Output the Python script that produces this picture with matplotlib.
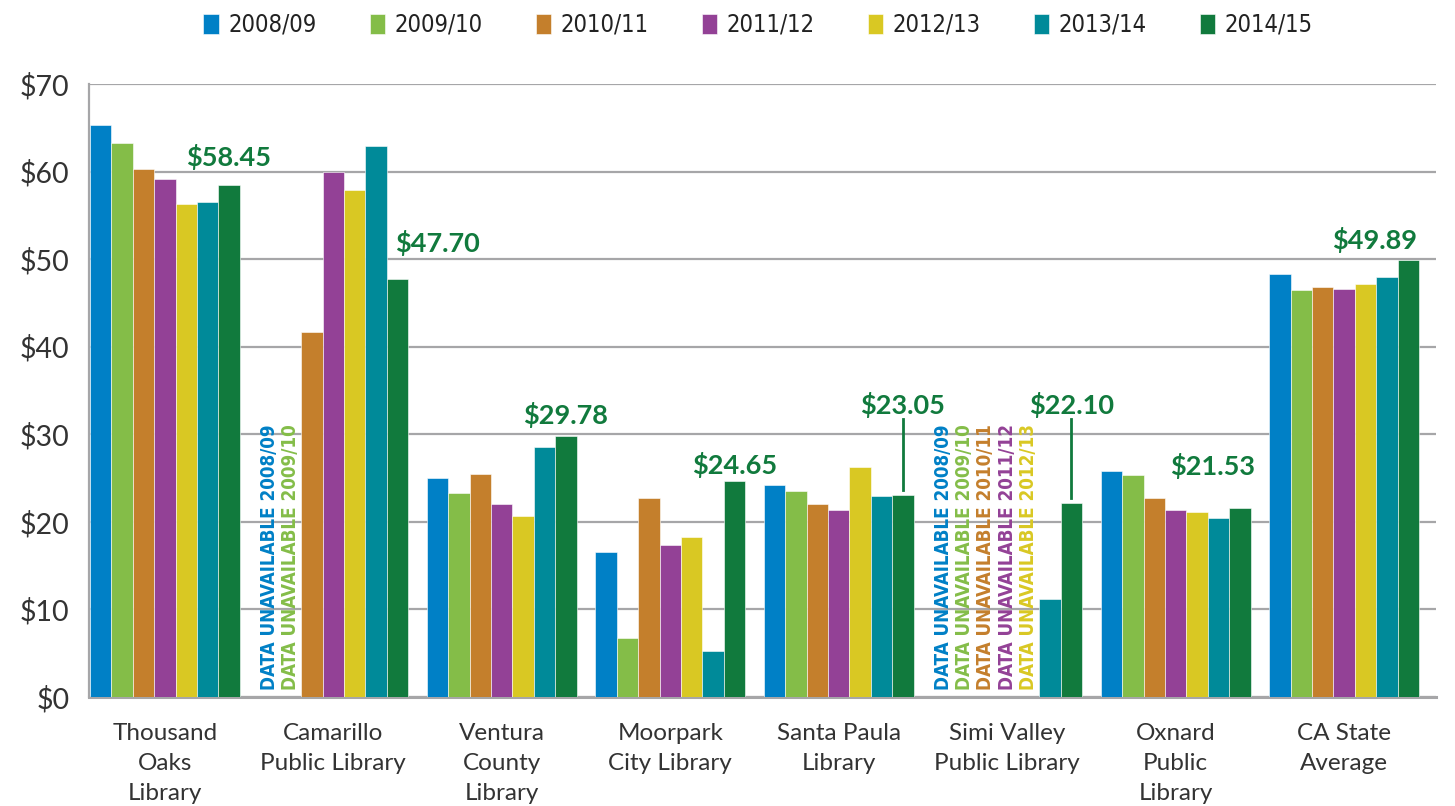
import matplotlib
matplotlib.use("Agg")
import matplotlib.pyplot as plt
import numpy as np

categories = ["Thousand\nOaks\nLibrary", "Camarillo\nPublic Library", "Ventura\nCounty\nLibrary",
              "Moorpark\nCity Library", "Santa Paula\nLibrary", "Simi Valley\nPublic Library",
              "Oxnard\nPublic\nLibrary", "CA State\nAverage"]
series_names = ["2008/09", "2009/10", "2010/11", "2011/12", "2012/13", "2013/14", "2014/15"]
nan = np.nan
v2008 = [65.3, nan, 25.0, 16.6, 24.2, nan, 25.8, 48.3]
v2009 = [63.3, nan, 23.3, 6.7, 23.5, nan, 25.3, 46.5]
v2010 = [60.3, 41.7, 25.5, 22.7, 22.0, nan, 22.7, 46.8]
v2011 = [59.1, 60.0, 22.0, 17.4, 21.3, nan, 21.4, 46.6]
v2012 = [56.3, 57.9, 20.7, 18.3, 26.3, nan, 21.1, 47.2]
v2013 = [56.5, 62.9, 28.6, 5.3, 23.0, 11.2, 20.4, 48.0]
v2014 = [58.45, 47.70, 29.78, 24.65, 23.05, 22.10, 21.53, 49.89]
series = [v2008, v2009, v2010, v2011, v2012, v2013, v2014]
colors = ["#0080C6", "#84BD48", "#C47F2C", "#934196", "#D9C823", "#008A99", "#117A3D"]

yticks = [0, 10, 20, 30, 40, 50, 60, 70]
ytick_labels = ["$0", "$10", "$20", "$30", "$40", "$50", "$60", "$70"]

# annotation placement for 2014/15 labels (x offset in group units, y in data units)
label_dx = [0, 0.24, 0, 0, 0, 0, -0.16, -0.2]
label_y = [61.7, 51.8, 32.2, 26.5, 33.4, 33.4, 26.4, 52.2]
leader = [False, False, False, False, True, True, False, False]

fig = plt.figure(figsize=(14.55, 8.06), dpi=100)
ax = fig.add_axes([89/1455, (806-697)/806, (1436-89)/1455, (697-84)/806])

n = len(series)
w = 0.127
x = np.arange(len(categories))
for i, (vals, c, name) in enumerate(zip(series, colors, series_names)):
    pos = x + (i - (n - 1) / 2) * w
    ax.bar(pos, vals, width=w, color=c, edgecolor="white", linewidth=0.4, label=name, zorder=3)
    for j, v in enumerate(vals):
        if np.isnan(v):
            ax.text(pos[j], 0.8, "DATA UNAVAILABLE " + name, rotation=90, ha="center", va="bottom",
                    color=c, fontsize=13.5, fontweight="bold", family="DejaVu Sans",
                    fontstretch="condensed", zorder=4)

green_pos = x + (n - 1 - (n - 1) / 2) * w
for j, v in enumerate(v2014):
    lx = green_pos[j] + label_dx[j]
    ax.text(lx, label_y[j], "${:.2f}".format(v), ha="center", va="center", color="#117A3D",
            fontsize=19.5, fontweight="bold", family="Lato", zorder=5)
    if leader[j]:
        ax.plot([green_pos[j], green_pos[j]], [label_y[j] - 1.7, v + 0.6], color="#117A3D", lw=2, zorder=5)

ax.set_ylim(0, 70)
ax.set_xlim(-0.45, 7.545)
ax.set_yticks(yticks)
ax.set_yticklabels(ytick_labels, fontsize=20.5, color="#333333", family="Lato")
ax.set_xticks(x)
ax.set_xticklabels(categories, fontsize=17.5, color="#333333", family="Lato", linespacing=1.53)
ax.tick_params(axis="both", length=0)
ax.tick_params(axis="x", pad=19)
ax.tick_params(axis="y", pad=14)
ax.yaxis.grid(True, color="#A6A6A8", linewidth=1.6, zorder=0)
ax.set_axisbelow(True)
for s in ["top", "right"]:
    ax.spines[s].set_visible(False)
ax.spines["left"].set_color("#A6A6A8")
ax.spines["left"].set_linewidth(1.6)
ax.spines["bottom"].set_color("#A6A6A8")
ax.spines["bottom"].set_linewidth(2.2)

leg = fig.legend(loc="center", bbox_to_anchor=(0.521, 1 - 25/806), ncol=7, frameon=False,
                 handlelength=0.65, handleheight=0.95, handletextpad=0.4, columnspacing=2.25,
                 prop={"family": "DejaVu Sans", "stretch": "condensed", "size": 17})
for t in leg.get_texts():
    t.set_color("#222222")

fig.savefig("out.png", dpi=100)
